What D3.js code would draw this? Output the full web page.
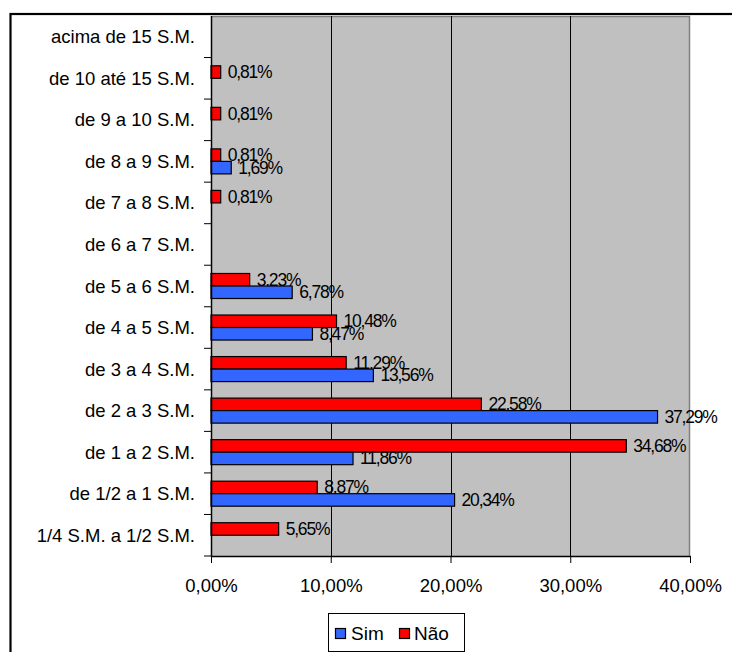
<!DOCTYPE html>
<html>
<head>
<meta charset="utf-8">
<script src="https://cdn.jsdelivr.net/npm/d3@7"></script>
<style>
  html, body { margin: 0; padding: 0; background: #fff; }
  svg { display: block; font-family: "Liberation Sans", Arial, sans-serif; }
</style>
</head>
<body>
<svg id="chart" width="732" height="652"></svg>
<script>
// Income bands, listed top to bottom
const categories = [
  "acima de 15 S.M.",
  "de 10 até 15 S.M.",
  "de 9 a 10 S.M.",
  "de 8 a 9 S.M.",
  "de 7 a 8 S.M.",
  "de 6 a 7 S.M.",
  "de 5 a 6 S.M.",
  "de 4 a 5 S.M.",
  "de 3 a 4 S.M.",
  "de 2 a 3 S.M.",
  "de 1 a 2 S.M.",
  "de 1/2 a 1 S.M.",
  "1/4 S.M. a 1/2 S.M."
];
// Percentages per band (null = no bar)
const simValues = [null, null, null, 1.69, null, null, 6.78, 8.47, 13.56, 37.29, 11.86, 20.34, null];
const naoValues = [null, 0.81, 0.81, 0.81, 0.81, null, 3.23, 10.48, 11.29, 22.58, 34.68, 8.87, 5.65];
const seriesNames = ["Não", "Sim"];
const seriesColors = { "Sim": "#3366FF", "Não": "#FF0000" };
const xTicks = [0, 10, 20, 30, 40];

const svg = d3.select("#chart");
const plot = { left: 211, right: 690, top: 16, bottom: 556 };

const fmt = v => v.toFixed(2).replace(".", ",") + "%";

// Outer chart border
svg.append("rect")
  .attr("x", 10.5).attr("y", 14)
  .attr("width", 760).attr("height", 700)
  .attr("fill", "#fff").attr("stroke", "#000").attr("stroke-width", 2.2);

const x = d3.scaleLinear().domain([0, 40]).range([plot.left, plot.right]);
const y = d3.scaleBand().domain(categories).range([plot.top, plot.bottom]).padding(0);
const ySub = d3.scaleBand().domain(seriesNames).range([0, y.bandwidth()]).paddingInner(0).paddingOuter(0.66);

// Plot background
svg.append("rect")
  .attr("x", plot.left).attr("y", plot.top)
  .attr("width", plot.right - plot.left).attr("height", plot.bottom - plot.top)
  .attr("fill", "#C0C0C0");

// Plot frame (top and right edges)
svg.append("path")
  .attr("d", `M${plot.left},${plot.top + 0.5}H${plot.right - 0.5}V${plot.bottom}`)
  .attr("fill", "none").attr("stroke", "#808080").attr("stroke-width", 1.5);

// Vertical gridlines
svg.append("g").selectAll("line")
  .data(xTicks.filter(t => t > 0 && t < 40))
  .join("line")
  .attr("x1", d => Math.round(x(d)) + 0.5).attr("x2", d => Math.round(x(d)) + 0.5)
  .attr("y1", plot.top).attr("y2", plot.bottom)
  .attr("stroke", "#000").attr("stroke-width", 1);

// Bars with value labels
const rows = categories.map((c, i) => ({ cat: c, "Sim": simValues[i], "Não": naoValues[i] }));
const barG = svg.append("g");
rows.forEach(r => {
  seriesNames.forEach(s => {
    const v = r[s];
    if (v == null) return;
    const y0 = y(r.cat) + ySub(s);
    barG.append("rect")
      .attr("x", x(0))
      .attr("y", y0)
      .attr("width", x(v) - x(0))
      .attr("height", ySub.bandwidth())
      .attr("fill", seriesColors[s])
      .attr("stroke", "#000").attr("stroke-width", 1.2);
    barG.append("text")
      .attr("x", x(v) + 7)
      .attr("y", y0 + ySub.bandwidth() / 2)
      .attr("dominant-baseline", "central")
      .attr("font-size", 17.5)
      .attr("letter-spacing", -1.2)
      .attr("fill", "#000")
      .text(fmt(v));
  });
});

// Category axis (left)
const yAxis = svg.append("g").attr("transform", `translate(${plot.left},0)`);
yAxis.append("line")
  .attr("x1", 0.5).attr("x2", 0.5).attr("y1", plot.top).attr("y2", plot.bottom + 1)
  .attr("stroke", "#000").attr("stroke-width", 1.5);
yAxis.selectAll("line.tick")
  .data(categories)
  .join("line").attr("class", "tick")
  .attr("x1", -7).attr("x2", 0)
  .attr("y1", d => y(d) + y.bandwidth())
  .attr("y2", d => y(d) + y.bandwidth())
  .attr("stroke", "#000").attr("stroke-width", 1);
yAxis.selectAll("text")
  .data(categories)
  .join("text")
  .attr("x", -16)
  .attr("y", d => y(d) + y.bandwidth() / 2)
  .attr("text-anchor", "end")
  .attr("dominant-baseline", "central")
  .attr("font-size", 18.5)
  .attr("fill", "#000")
  .text(d => d);

// Value axis (bottom)
const xAxis = svg.append("g").attr("transform", `translate(0,${plot.bottom})`)
  .call(d3.axisBottom(x).tickValues(xTicks).tickSize(7).tickSizeOuter(0)
    .tickFormat(d => d.toFixed(2).replace(".", ",") + "%"));
xAxis.select(".domain").attr("stroke", "#000").attr("stroke-width", 1.5);
xAxis.selectAll(".tick line").attr("stroke", "#000");
xAxis.selectAll(".tick text")
  .attr("font-size", 18.5).attr("font-family", "Liberation Sans, Arial, sans-serif")
  .attr("fill", "#000").attr("dy", "1.4em");

// Legend
const legend = svg.append("g");
legend.append("rect")
  .attr("x", 328.5).attr("y", 613.5).attr("width", 136).attr("height", 38)
  .attr("fill", "#fff").attr("stroke", "#000").attr("stroke-width", 1);
const legendItems = [
  { name: "Sim", sx: 335, tx: 351 },
  { name: "Não", sx: 399, tx: 414 }
];
legendItems.forEach(it => {
  legend.append("rect")
    .attr("x", it.sx + 0.5).attr("y", 628.5).attr("width", 10).attr("height", 10)
    .attr("fill", seriesColors[it.name]).attr("stroke", "#000").attr("stroke-width", 1.2);
  legend.append("text")
    .attr("x", it.tx).attr("y", 633.5)
    .attr("dominant-baseline", "central")
    .attr("font-size", 19).attr("fill", "#000")
    .text(it.name);
});
</script>
</body>
</html>
